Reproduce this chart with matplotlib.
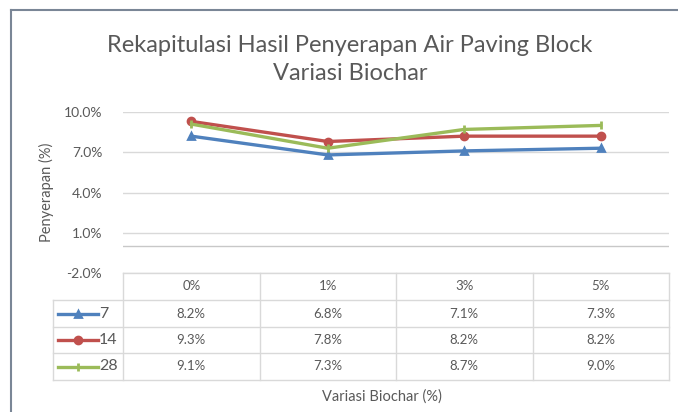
import matplotlib
matplotlib.use("Agg")
import matplotlib.pyplot as plt
from matplotlib.lines import Line2D

# ── data ───────────────────────────────────────────────────────────
categories = ["0%", "1%", "3%", "5%"]
series_names = ["7", "14", "28"]
vals_7 = [8.2, 6.8, 7.1, 7.3]
vals_14 = [9.3, 7.8, 8.2, 8.2]
vals_28 = [9.1, 7.3, 8.7, 9.0]
y_ticks = [-2.0, 1.0, 4.0, 7.0, 10.0]

series = [vals_7, vals_14, vals_28]
colors = ["#4f81bd", "#c0504d", "#9bbb59"]
markers = ["^", "o", "|"]
msizes = [5, 5, 6]

W, H = 678, 412
TXT = "#595959"
GRID = "#d9d9d9"
plt.rcParams["font.family"] = ["Lato", "DejaVu Sans"]

fig = plt.figure(figsize=(W / 100, H / 100), dpi=100)


def fx(px):
    return px / W


def fy(py):
    return 1 - py / H


# plot area (pixel bounds)
left, right, top, bottom = 123, 669, 112, 273
ax = fig.add_axes([fx(left), fy(bottom), fx(right - left), fy(top) - fy(bottom)])
x = list(range(len(categories)))
for vals, col, mk, ms in zip(series, colors, markers, msizes):
    ax.plot(x, vals, color=col, lw=2.4, marker=mk, ms=ms, mew=2,
            solid_capstyle="round", zorder=3)

ax.set_xlim(-0.5, len(categories) - 0.5)
ax.set_ylim(-2, 10)
ax.set_yticks(y_ticks)
ax.set_yticklabels([f"{t:.1f}%" for t in y_ticks], color=TXT, fontsize=10)
ax.tick_params(axis="y", length=0, pad=15)
ax.set_xticks([])
ax.grid(axis="y", color=GRID, lw=1)
ax.axhline(0, color="#c8c8c8", lw=1)
for s in ax.spines.values():
    s.set_visible(False)
ax.set_ylabel("Penyerapan (%)", color=TXT, fontsize=10.5, labelpad=7)

# ── data table under the plot ─────────────────────────────────────
rows_y = [273, 300, 327, 353, 380]
leg_left = 53
col_w = (right - left) / len(categories)
col_x = [left + i * col_w for i in range(len(categories) + 1)]


def hline(x0, x1, y):
    fig.add_artist(Line2D([fx(x0), fx(x1)], [fy(y), fy(y)], color=GRID, lw=1))


def vline(x0, y0, y1):
    fig.add_artist(Line2D([fx(x0), fx(x0)], [fy(y0), fy(y1)], color=GRID, lw=1))


hline(left, right, rows_y[0])
for y in rows_y[1:]:
    hline(leg_left, right, y)
for xc in col_x:
    vline(xc, rows_y[0], rows_y[-1])
vline(leg_left, rows_y[1], rows_y[-1])

for i, cat in enumerate(categories):
    cx = (col_x[i] + col_x[i + 1]) / 2
    fig.text(fx(cx), fy((rows_y[0] + rows_y[1]) / 2), cat, ha="center",
             va="center", color=TXT, fontsize=9.5)
    for r, vals in enumerate(series):
        fig.text(fx(cx), fy((rows_y[r + 1] + rows_y[r + 2]) / 2),
                 f"{vals[i]:.1f}%", ha="center", va="center", color=TXT,
                 fontsize=9.5)

for r, (name, col, mk, ms) in enumerate(zip(series_names, colors, markers, msizes)):
    cy = fy((rows_y[r + 1] + rows_y[r + 2]) / 2)
    fig.add_artist(Line2D([fx(58), fx(98)], [cy, cy], color=col, lw=2.4))
    fig.add_artist(Line2D([fx(78)], [cy], color=col, marker=mk, ms=ms, mew=2))
    fig.text(fx(99), cy, name, ha="left", va="center", color=TXT, fontsize=11.5)

fig.text(fx((left + right) / 2 - 14), fy(397), "Variasi Biochar (%)", ha="center",
         va="center", color=TXT, fontsize=10.5)

# title
fig.text(fx(350), fy(45), "Rekapitulasi Hasil Penyerapan Air Paving Block",
         ha="center", va="center", color=TXT, fontsize=17)
fig.text(fx(350), fy(73), "Variasi Biochar", ha="center", va="center",
         color=TXT, fontsize=17)

# frame remnants (top and left border of the chart area)
fig.add_artist(Line2D([fx(11), 1], [fy(10), fy(10)], color="#7a8696", lw=1.5))
fig.add_artist(Line2D([fx(11), fx(11)], [fy(10), 0], color="#7a8696", lw=1.5))

fig.savefig("out.png", dpi=100)
